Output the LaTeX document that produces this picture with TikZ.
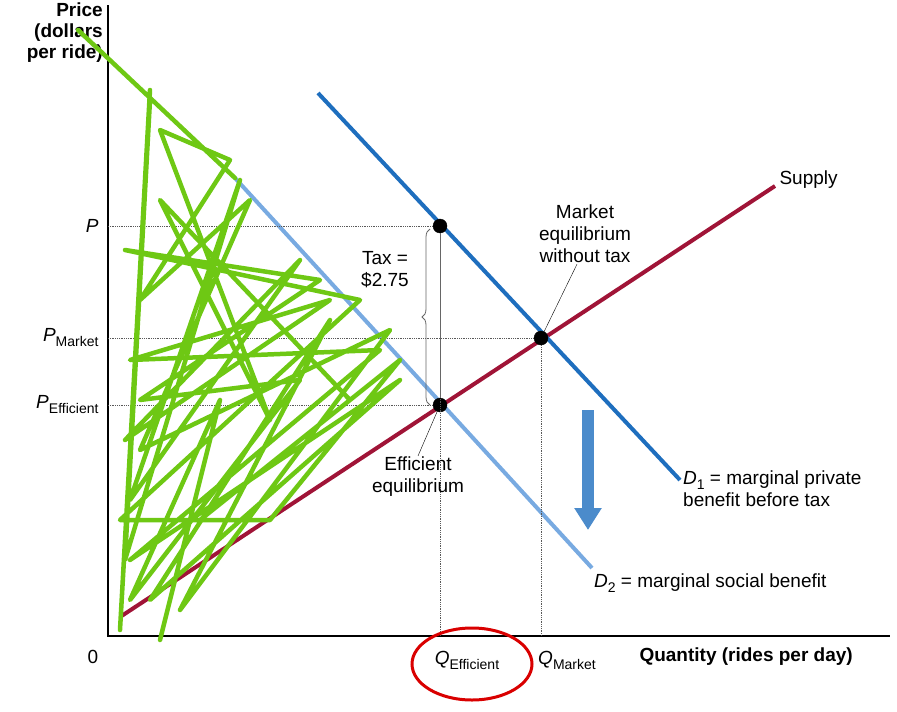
\documentclass[tikz,border=0pt]{standalone}
\usepackage{fontspec}
\setmainfont{Liberation Sans}
\usetikzlibrary{decorations.pathreplacing,arrows.meta}
\definecolor{darkblue}{RGB}{30,110,190}
\definecolor{lightblue}{RGB}{120,170,225}
\definecolor{supplyred}{RGB}{160,20,55}
\definecolor{scribble}{RGB}{110,200,20}
\newcommand{\subtxt}[1]{\mbox{\fontsize{14}{14}\selectfont #1}}
\begin{document}
\begin{tikzpicture}[x=1pt,y=-1pt,font=\fontsize{19}{22}\selectfont]

      \tikzset{dot/.style={draw, circle, inner sep=0pt, minimum size=14pt, fill=black},
               guide/.style={densely dotted, thick, gray!70!black},
               txt/.style={align=left, inner sep=1pt}}
      \useasboundingbox (0,0) rectangle (897,712);
%% Axes
      	\coordinate (o) at (108,636);
      	\draw[line width=1.5pt] (108,5) -- (o) -- (890,636);
      	\node[font=\bfseries\fontsize{19}{21}\selectfont, align=right, anchor=north east, inner sep=1pt] (ylab) at (104,2) {Price\\(dollars\\per ride)};
      	\node[font=\bfseries\fontsize{19}{22}\selectfont, anchor=west] (xlab) at (636,657) {Quantity (rides per day)};
      	\node (zero) at (93,657) {0};
%% Curves
      	\draw[supplyred, line width=4pt] (120,617) -- (775,186);
      	\draw[darkblue, line width=4pt] (318,93) -- (680,480);
      	\draw[lightblue, line width=4pt] (235,178) -- (592,568);
%% Points
      	\node[dot] (ptax) at (440,226) {};
      	\node[dot] (pmkt) at (541,338) {};
      	\node[dot] (peff) at (440,405) {};
%Guides
		\draw[guide] (108,226) -- (ptax);
		\draw[guide] (108,338) -- (pmkt);
		\draw[guide] (108,405) -- (peff);
		\draw[guide] (ptax) -- (440,636);
		\draw[guide] (pmkt) -- (541,636);
		\draw[gray!80!black, thick] (ptax) -- (peff);
		\draw[decorate, decoration={brace, amplitude=8pt}, gray!80!black, thick] (430,405) -- (430,229);
%Labels
		\node[anchor=east] (lp) at (102,226) {\textit{P}};
		\node[anchor=east] (lpm) at (102,338) {\textit{P}\raisebox{-0.5ex}{\subtxt{Market}}};
		\node[anchor=east] (lpe) at (102,405) {\textit{P}\raisebox{-0.5ex}{\subtxt{Efficient}}};
		\node (lqe) at (467,660) {\textit{Q}\raisebox{-0.5ex}{\subtxt{Efficient}}};
		\node (lqm) at (567,660) {\textit{Q}\raisebox{-0.5ex}{\subtxt{Market}}};
		\node[txt, align=center] (ltax) at (385,270) {Tax =\\\$2.75};
		\node[txt, align=center] (lmkt) at (585,234) {Market\\equilibrium\\without tax};
		\node[txt, align=center] (leff) at (418,477) {Efficient\\equilibrium};
		\draw (lmkt.south) ++(-8,0) -- (pmkt);
		\draw (leff.north) -- (peff);
		\node[anchor=west] (lsup) at (776,180) {Supply};
		\node[txt, anchor=north west] (ld1) at (682,470) {\textit{D}\raisebox{-0.5ex}{\subtxt{1}} = marginal private\\benefit before tax};
		\node[txt, anchor=west] (ld2) at (593,583) {\textit{D}\raisebox{-0.5ex}{\subtxt{2}} = marginal social benefit};
		\draw[-{Triangle[width=26pt,length=22pt]}, line width=12pt, darkblue!80] (588,410) -- (588,530);
%Annotations
		\draw[scribble, line width=4.5pt, line join=round, line cap=round] (78,30) -- (235,178) (150,90) -- (120,630) -- (150,100) -- (125,560) -- (240,180) -- (130,500) -- (300,260) -- (125,440) -- (330,300) -- (130,360) -- (380,350) -- (130,560) -- (400,380) -- (150,600) -- (330,320) -- (180,610) -- (390,330) -- (140,450) -- (250,200) -- (140,300) -- (230,160) -- (160,130) -- (270,420) -- (160,200) -- (350,400) -- (200,520) -- (400,360) -- (270,520) -- (120,520) -- (360,300) -- (125,250) -- (320,280) -- (140,400) -- (300,380) -- (130,600) -- (220,400) -- (160,640);
		\draw[red!85!black, line width=3pt] (472,664) ellipse (60 and 36);

	\end{tikzpicture}
\end{document}
